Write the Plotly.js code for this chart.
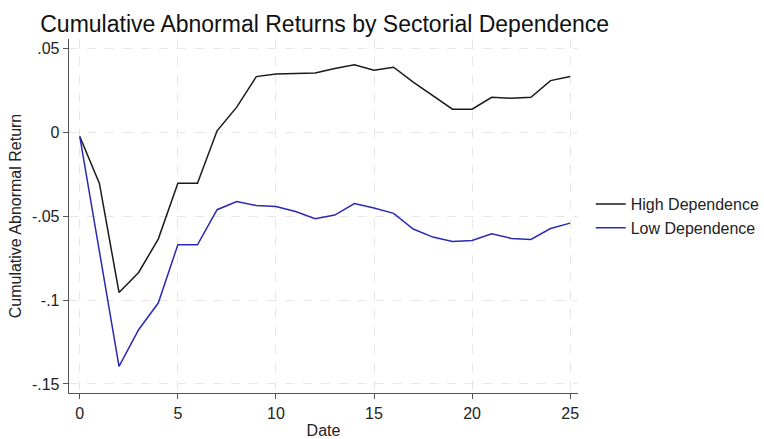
<!DOCTYPE html>
<html>
<head>
<meta charset="utf-8">
<script src="https://cdn.plot.ly/plotly-3.0.1.min.js"></script>
<style>html,body{margin:0;padding:0;background:#fff;}#chart{width:764px;height:439px;}</style>
</head>
<body>
<div id="chart"></div>
<script>
const dates = [0,1,2,3,4,5,6,7,8,9,10,11,12,13,14,15,16,17,18,19,20,21,22,23,24,25];
const highDependence = [-0.0026,-0.0305,-0.0955,-0.0836,-0.0637,-0.0304,-0.0304,0.0008,0.0149,0.0331,0.0347,0.0351,0.0353,0.0379,0.0402,0.0369,0.0387,0.0298,0.0218,0.0137,0.0137,0.0208,0.0202,0.0208,0.0307,0.0331];
const lowDependence = [-0.0026,-0.0710,-0.1395,-0.1177,-0.1018,-0.0671,-0.0671,-0.0462,-0.0413,-0.0437,-0.0443,-0.0473,-0.0516,-0.0494,-0.0425,-0.0452,-0.0484,-0.0577,-0.0625,-0.0651,-0.0645,-0.0605,-0.0633,-0.0639,-0.0574,-0.0542];
const seriesNames = ["High Dependence","Low Dependence"];
const yTickVals = [0.05,0,-0.05,-0.1,-0.15];
const yTickText = [".05","0","-.05","-.1","-.15"];
const xTickVals = [0,5,10,15,20,25];

const font = "Liberation Sans, Arial, sans-serif";
const traces = [
  {x: dates, y: highDependence, name: seriesNames[0], type: "scatter", mode: "lines", line: {color: "#1a1a1a", width: 1.5}},
  {x: dates, y: lowDependence, name: seriesNames[1], type: "scatter", mode: "lines", line: {color: "#2a2ab4", width: 1.5}}
];
const layout = {
  width: 764, height: 439,
  margin: {l: 69, r: 186, t: 39, b: 46, autoexpand: false},
  paper_bgcolor: "#ffffff", plot_bgcolor: "#ffffff",
  font: {family: font, size: 16, color: "#222"},
  title: {text: "Cumulative Abnormal Returns by Sectorial Dependence", font: {family: font, size: 23, color: "#111"}, x: 0.425, xanchor: "center", y: 0.945, yanchor: "middle"},
  xaxis: {
    range: [-0.55, 25.4], tickvals: xTickVals, ticks: "outside", ticklen: 5, tickcolor: "#555",
    showline: true, linecolor: "#555", linewidth: 1.3, zeroline: false,
    showgrid: true, gridcolor: "#e6e6e6", griddash: "dash", gridwidth: 1,
    tickfont: {size: 16, color: "#222"},
    title: {text: "Date", font: {size: 16, color: "#222"}, standoff: 4}
  },
  yaxis: {
    range: [-0.1554, 0.0555], tickvals: yTickVals, ticktext: yTickText, ticks: "outside", ticklen: 5, tickcolor: "#555",
    showline: true, linecolor: "#555", linewidth: 1.3, zeroline: false,
    showgrid: true, gridcolor: "#e6e6e6", griddash: "dash", gridwidth: 1,
    tickfont: {size: 16, color: "#222"},
    title: {text: "Cumulative Abnormal Return", font: {size: 16, color: "#222"}, standoff: 6}
  },
  legend: {x: 1.025, xanchor: "left", y: 0.5, yanchor: "middle", font: {size: 16, color: "#222"}, bgcolor: "rgba(0,0,0,0)", tracegroupgap: 0},
  showlegend: true
};
Plotly.newPlot("chart", traces, layout, {staticPlot: true, displayModeBar: false});
</script>
</body>
</html>
